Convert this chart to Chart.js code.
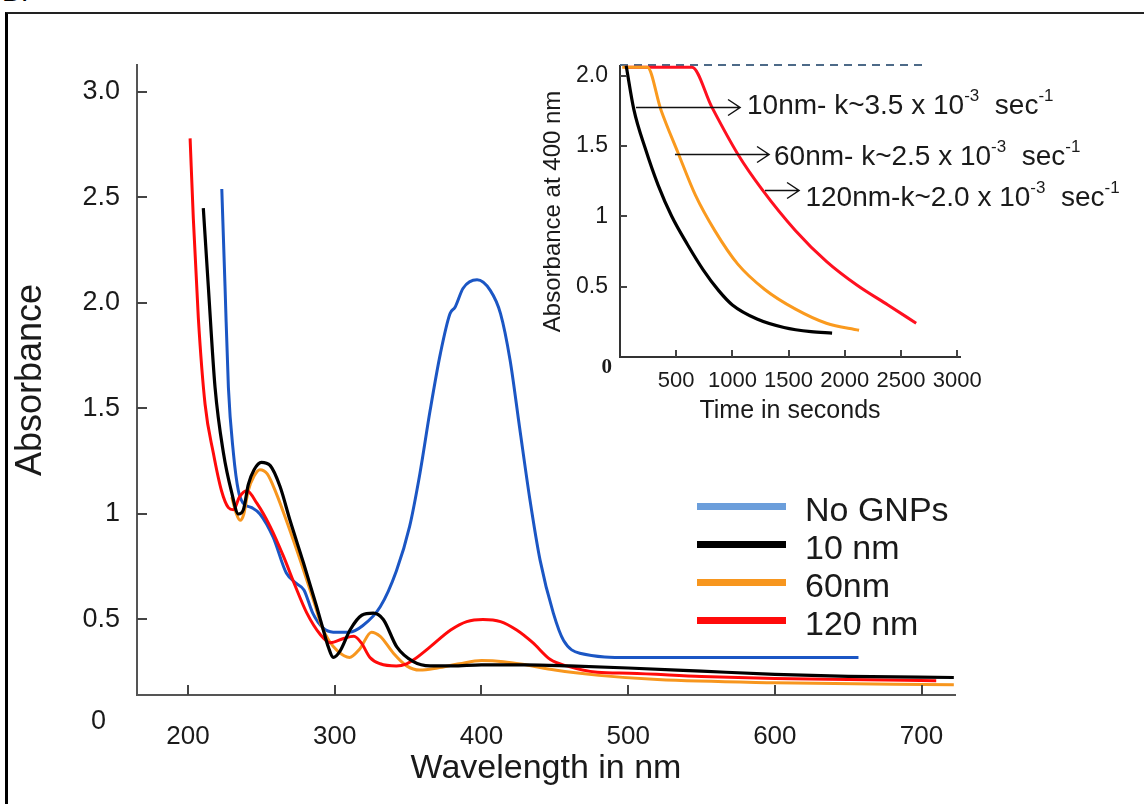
<!DOCTYPE html>
<html>
<head>
<meta charset="utf-8">
<script src="https://cdn.jsdelivr.net/npm/chart.js@4.4.1/dist/chart.umd.min.js"></script>
<style>
  body { margin: 0; width: 1144px; height: 804px; overflow: hidden; background: #fff; position: relative; }
  #frame { position: absolute; left: 5px; top: 12px; width: 1200px; height: 900px; border-left: 3px solid #000; border-top: 2px solid #222; }
  #tag { position: absolute; left: 2px; top: -24px; font: 28px 'Liberation Sans', Arial, sans-serif; color: #000; }
  #mainChart { position: absolute; left: 0; top: 0; }
  #insetChart { position: absolute; left: 520px; top: 40px; }
  #legend { position: absolute; left: 697px; top: 488px; font-family: 'Liberation Sans', Arial, sans-serif; font-size: 34px; color: #1a1a1a; }
  .row { position: relative; height: 38px; width: 300px; }
  .sw { position: absolute; left: 0; top: 15px; width: 89px; height: 7px; }
  .lb { position: absolute; left: 108px; top: 2px; line-height: 38px; white-space: nowrap; }
</style>
</head>
<body>
<div id="tag">B.</div>
<div id="frame"></div>
<canvas id="mainChart" width="1144" height="804"></canvas>
<canvas id="insetChart" width="624" height="400"></canvas>
<div id="legend"></div>
<script>
// main spectra (wavelength in nm, absorbance)
const blueNm = [223, 225.2, 227.5, 230.9, 234.3, 237.7, 243.4, 249, 258, 267, 274, 279, 285, 292, 299, 310, 319, 331, 342, 351, 358, 365, 372, 378.6, 382, 387.5, 397, 406, 413, 419.5, 426, 433, 440, 449, 456, 467, 501, 657];
const blueAbs = [2.54, 2.08, 1.60, 1.29, 1.11, 1.05, 1.03, 1.00, 0.89, 0.72, 0.67, 0.64, 0.53, 0.46, 0.44, 0.44, 0.47, 0.56, 0.73, 0.94, 1.19, 1.49, 1.76, 1.95, 1.98, 2.07, 2.11, 2.06, 1.95, 1.73, 1.41, 1.07, 0.78, 0.53, 0.40, 0.34, 0.32, 0.32];

const blackNm = [210.4, 213.8, 218.4, 224.1, 229.8, 234.3, 237.7, 241.1, 245, 250, 255.9, 262.7, 269.5, 278.6, 287.7, 292.2, 295.6, 299, 303.6, 310.4, 318.4, 326.3, 333.1, 342.3, 353.6, 365, 380, 400, 430, 460, 500, 550, 600, 650, 722];
const blackAbs = [2.45, 2.08, 1.60, 1.29, 1.10, 1.00, 1.02, 1.14, 1.21, 1.245, 1.23, 1.13, 0.97, 0.77, 0.56, 0.45, 0.37, 0.32, 0.35, 0.45, 0.52, 0.53, 0.50, 0.37, 0.30, 0.28, 0.28, 0.285, 0.285, 0.28, 0.27, 0.255, 0.24, 0.23, 0.225];

const orangeNm = [229.8, 233, 235.5, 238, 241, 245, 249, 254, 260, 268, 277, 286, 291, 296, 302, 310, 317, 325, 331, 340, 349, 358, 370, 385, 400, 415, 430, 450, 480, 520, 600, 722];
const orangeAbs = [1.08, 1.00, 0.97, 1.00, 1.11, 1.18, 1.21, 1.19, 1.10, 0.95, 0.77, 0.58, 0.47, 0.40, 0.35, 0.32, 0.36, 0.44, 0.42, 0.34, 0.28, 0.26, 0.27, 0.29, 0.305, 0.30, 0.285, 0.26, 0.235, 0.215, 0.20, 0.19];

const redNm = [201.4, 203.6, 207, 211.6, 217.2, 222.8, 227.5, 231, 235, 240, 247, 256, 265, 273, 281, 290, 297, 306, 313, 318, 324, 331, 342, 349, 354, 365, 379, 390, 401, 413, 424, 435, 447, 458, 479, 501, 550, 600, 650, 710];
const redAbs = [2.78, 2.40, 1.93, 1.52, 1.29, 1.11, 1.03, 1.02, 1.08, 1.11, 1.05, 0.94, 0.80, 0.66, 0.53, 0.43, 0.39, 0.41, 0.42, 0.39, 0.32, 0.29, 0.28, 0.29, 0.31, 0.37, 0.45, 0.49, 0.50, 0.49, 0.45, 0.39, 0.31, 0.28, 0.25, 0.245, 0.23, 0.22, 0.215, 0.21];

const xTicks = [200, 300, 400, 500, 600, 700];
const yTicks = [0.5, 1, 1.5, 2, 2.5, 3];
const yTickLabels = ['0.5', '1', '1.5', '2.0', '2.5', '3.0'];

const legendNames = ['No GNPs', '10 nm', '60nm', '120 nm'];

// inset: absorbance at 400 nm vs time
const insetBlackT = [55, 123, 226, 340, 460, 600, 740, 880, 1000, 1219, 1459, 1699, 1887];
const insetBlackA = [2.07, 1.76, 1.48, 1.22, 1.00, 0.80, 0.62, 0.47, 0.37, 0.27, 0.21, 0.18, 0.17];
const insetOrangeT = [20, 243, 363, 517, 671, 842, 1048, 1288, 1562, 1836, 2127];
const insetOrangeA = [2.06, 2.06, 1.76, 1.45, 1.15, 0.90, 0.66, 0.48, 0.34, 0.24, 0.19];
const insetRedT = [40, 640, 815, 1050, 1265, 1560, 1836, 2110, 2384, 2635];
const insetRedA = [2.06, 2.06, 1.78, 1.44, 1.19, 0.90, 0.68, 0.51, 0.37, 0.24];
const insetDashT = [0, 2740];
const insetDashA = [2.075, 2.075];

const insetXTicks = [500, 1000, 1500, 2000, 2500, 3000];
const insetYTicks = [0.5, 1, 1.5, 2];
const insetYTickLabels = ['0.5', '1', '1.5', '2.0'];

const rateNames = ['10nm- k~3.5 x 10', '60nm- k~2.5 x 10', '120nm-k~2.0 x 10'];

const SANS = "'Liberation Sans', Arial, sans-serif";
const TEXT = '#1a1a1a';

const pairs = (xs, ys) => xs.map((v, i) => ({ x: v, y: ys[i] }));

function line(data, color, width) {
  return {
    data: data,
    borderColor: color,
    borderWidth: width,
    pointRadius: 0,
    fill: false,
    cubicInterpolationMode: 'monotone',
    clip: false
  };
}

// inward tick marks plus the lone "0" label
function tickPlugin(id, len, zeroFont, zeroDx, zeroDy) {
  return {
    id: id,
    afterDraw(chart) {
      const { ctx, chartArea, scales: { x, y } } = chart;
      ctx.save();
      ctx.strokeStyle = '#444';
      ctx.lineWidth = 2;
      x.ticks.forEach(t => {
        const px = Math.round(x.getPixelForValue(t.value));
        ctx.beginPath();
        ctx.moveTo(px, chartArea.bottom);
        ctx.lineTo(px, chartArea.bottom - len);
        ctx.stroke();
      });
      y.ticks.forEach(t => {
        const py = Math.round(y.getPixelForValue(t.value));
        ctx.beginPath();
        ctx.moveTo(chartArea.left, py);
        ctx.lineTo(chartArea.left + len, py);
        ctx.stroke();
      });
      ctx.fillStyle = TEXT;
      ctx.font = zeroFont;
      ctx.textAlign = 'right';
      ctx.textBaseline = 'middle';
      ctx.fillText('0', chartArea.left + zeroDx, y.getPixelForValue(0) + zeroDy);
      ctx.restore();
    }
  };
}

// Main chart
try {
  new Chart(document.getElementById('mainChart'), {
    type: 'line',
    data: {
      datasets: [
        line(pairs(blackNm, blackAbs), '#000000', 3.2),
        line(pairs(redNm, redAbs), '#ff0a0a', 3),
        line(pairs(orangeNm, orangeAbs), '#f7961e', 3),
        line(pairs(blueNm, blueAbs), '#1b56c4', 3)
      ]
    },
    options: {
      animation: false,
      responsive: false,
      devicePixelRatio: 1,
      layout: { padding: { top: 65, right: 189, left: 0, bottom: 0 } },
      plugins: { legend: { display: false }, tooltip: { enabled: false } },
      scales: {
        x: {
          type: 'linear',
          min: 165.2,
          max: 722.8,
          afterBuildTicks: s => { s.ticks = xTicks.map(v => ({ value: v })); },
          afterFit: s => { s.height = 109; },
          border: { display: true, color: '#555', width: 2 },
          grid: { display: false, drawTicks: false },
          ticks: { padding: 26, autoSkip: false, maxRotation: 0, color: TEXT, font: { family: SANS, size: 26 } },
          title: { display: true, text: 'Wavelength in nm', color: TEXT, font: { family: SANS, size: 34 }, padding: { top: 0, bottom: 15 } }
        },
        y: {
          type: 'linear',
          min: 0.142,
          max: 3.128,
          afterBuildTicks: s => { s.ticks = yTicks.map(v => ({ value: v })); },
          afterFit: s => { s.width = 137; },
          border: { display: true, color: '#555', width: 2 },
          grid: { display: false, drawTicks: false },
          ticks: { padding: 17, color: TEXT, font: { family: SANS, size: 27 }, callback: (v, i) => yTickLabels[i] },
          title: { display: true, text: 'Absorbance', color: TEXT, font: { family: SANS, size: 36 }, padding: { top: 9, bottom: 0 } }
        }
      }
    },
    plugins: [tickPlugin('mainTicks', 10, '27px ' + SANS, -31, -3)]
  });
} catch (error) {
  console.error('Error initializing main chart:', error);
}

// Legend
const legendColors = ['#6b9edb', '#000000', '#f7961e', '#ff0a0a'];
const legendEl = document.getElementById('legend');
legendNames.forEach((name, i) => {
  const row = document.createElement('div');
  row.className = 'row';
  row.innerHTML = '<div class="sw" style="background:' + legendColors[i] + '"></div><div class="lb">' + name + '</div>';
  legendEl.appendChild(row);
});

// Inset annotations: arrow from/to (time) at an absorbance level, text start
const insetNotes = [
  { from: 142, to: 1068, at: 1.78, textAt: 1130, textY: 1.78 },
  { from: 489, to: 1326, at: 1.44, textAt: 1370, textY: 1.42 },
  { from: 1290, to: 1593, at: 1.19, textAt: 1650, textY: 1.125 }
];

const notesPlugin = {
  id: 'insetNotes',
  afterDraw(chart) {
    const { ctx, scales: { x, y } } = chart;
    ctx.save();
    ctx.strokeStyle = '#111';
    ctx.fillStyle = TEXT;
    ctx.lineWidth = 1.5;
    insetNotes.forEach((n, i) => {
      const x0 = x.getPixelForValue(n.from);
      const x1 = x.getPixelForValue(n.to);
      const py = Math.round(y.getPixelForValue(n.at)) + 0.5;
      ctx.beginPath();
      ctx.moveTo(x0, py);
      ctx.lineTo(x1, py);
      ctx.moveTo(x1 - 12, py - 8);
      ctx.lineTo(x1, py);
      ctx.lineTo(x1 - 12, py + 8);
      ctx.stroke();

      let tx = x.getPixelForValue(n.textAt);
      const ty = y.getPixelForValue(n.textY);
      ctx.textAlign = 'left';
      ctx.textBaseline = 'middle';
      const parts = [[rateNames[i], 28, 0], ['-3', 17, -10], ['  sec', 28, 0], ['-1', 17, -10]];
      parts.forEach(p => {
        ctx.font = p[1] + 'px ' + SANS;
        ctx.fillText(p[0], tx, ty + p[2]);
        tx += ctx.measureText(p[0]).width;
      });
    });
    ctx.restore();
  }
};

// Inset chart
try {
  const dash = line(pairs(insetDashT, insetDashA), '#4d6a88', 2);
  dash.borderDash = [8, 6];
  dash.cubicInterpolationMode = 'default';
  new Chart(document.getElementById('insetChart'), {
    type: 'line',
    data: {
      datasets: [
        line(pairs(insetBlackT, insetBlackA), '#000000', 3.2),
        line(pairs(insetOrangeT, insetOrangeA), '#fa9a1e', 3),
        line(pairs(insetRedT, insetRedA), '#ff1020', 3),
        dash
      ]
    },
    options: {
      animation: false,
      responsive: false,
      devicePixelRatio: 1,
      layout: { padding: { top: 19, right: 184, left: 0, bottom: 0 } },
      plugins: { legend: { display: false }, tooltip: { enabled: false } },
      scales: {
        x: {
          type: 'linear',
          min: 0,
          max: 3025,
          afterBuildTicks: s => { s.ticks = insetXTicks.map(v => ({ value: v })); },
          afterFit: s => { s.height = 83; },
          border: { display: true, color: '#333', width: 2 },
          grid: { display: false, drawTicks: false },
          ticks: { padding: 11, autoSkip: false, maxRotation: 0, color: TEXT, font: { family: SANS, size: 22 }, callback: v => String(v) },
          title: { display: true, text: 'Time in seconds', color: TEXT, font: { family: SANS, size: 25 }, padding: { top: 0, bottom: 14 } }
        },
        y: {
          type: 'linear',
          min: 0,
          max: 2.07,
          afterBuildTicks: s => { s.ticks = insetYTicks.map(v => ({ value: v })); },
          afterFit: s => { s.width = 100; },
          border: { display: true, color: '#333', width: 2 },
          grid: { display: false, drawTicks: false },
          ticks: { padding: 12, color: TEXT, font: { family: SANS, size: 23 }, callback: (v, i) => insetYTickLabels[i] },
          title: { display: true, text: 'Absorbance at 400 nm', color: TEXT, font: { family: SANS, size: 24 }, padding: { top: 19, bottom: 0 } }
        }
      }
    },
    plugins: [tickPlugin('insetTicks', 7, "bold 21px 'Liberation Serif', serif", -8, 11), notesPlugin]
  });
} catch (error) {
  console.error('Error initializing inset chart:', error);
}
</script>
</body>
</html>
